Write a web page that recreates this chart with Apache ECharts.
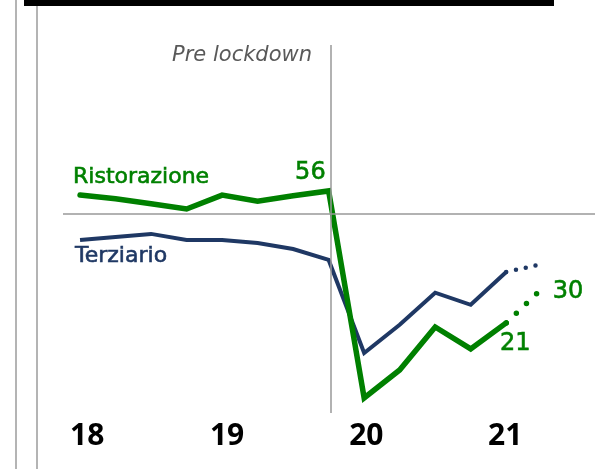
<!DOCTYPE html>
<html>
<head>
<meta charset="utf-8">
<script src="https://cdn.jsdelivr.net/npm/echarts@6/dist/echarts.min.js"></script>
<style>
  html, body { margin: 0; padding: 0; background: #fff; }
  #main { width: 615px; height: 469px; }
</style>
</head>
<body>
<div id="main"></div>
<script>
// quarters, 0 = Q1 2018
var quarters = [0, 1, 2, 3, 4, 5, 6, 7, 8, 9, 10, 11, 12];
var ristorazione = [54.9, 53.9, 52.6, 51.2, 54.9, 53.3, 54.7, 56, 1.1, 8.5, 19.9, 14.1, 21];
var terziario = [43.0, 43.8, 44.6, 43.0, 43.0, 42.2, 40.6, 37.7, 13.0, 20.5, 29.0, 25.8, 34.5];

var forecastQuarters = [12, 13];
var ristorazioneForecast = [21, 30];
var terziarioForecast = [34.5, 36.6];

var yearLabels = ['18', '19', '20', '21'];
var yearTicks = [0.2, 4.14, 8.06, 11.97];

var lockdownAt = 7.06;
var threshold = 50;

var green = '#008000';
var navy = '#1f3864';
var labelFont = 'DejaVu Sans';

function pairs(xs, ys) {
    var out = [];
    for (var i = 0; i < xs.length; i++) out.push([xs[i], ys[i]]);
    return out;
}

var valueLabel = {
    show: true,
    color: green,
    textBorderColor: green,
    textBorderWidth: 0.6,
    fontFamily: labelFont,
    fontSize: 24,
    formatter: function (p) { return Math.round(p.value[1]); }
};

var greenData = pairs(quarters, ristorazione).map(function (d, i) {
    if (i === 0) {
        return {value: d, label: {show: true, position: 'top', align: 'left', offset: [-7, -2],
            formatter: 'Ristorazione', color: green, textBorderColor: green, textBorderWidth: 0.6,
            fontFamily: labelFont, fontSize: 22}};
    }
    if (i === 7) {
        return {value: d, label: Object.assign({}, valueLabel, {position: 'top', align: 'right', offset: [-3, -1]})};
    }
    if (i === 12) {
        return {value: d, label: Object.assign({}, valueLabel, {position: 'bottom', offset: [9, 4]})};
    }
    return d;
});

var navyData = pairs(quarters, terziario).map(function (d, i) {
    if (i === 0) {
        return {value: d, label: {show: true, position: 'bottom', align: 'left', offset: [-5, 0],
            formatter: 'Terziario', color: navy, textBorderColor: navy, textBorderWidth: 0.6,
            fontFamily: labelFont, fontSize: 22}};
    }
    return d;
});

var greenFc = pairs(forecastQuarters, ristorazioneForecast).map(function (d, i) {
    if (i === 1) {
        return {value: d, label: Object.assign({}, valueLabel, {position: 'right', offset: [6, 3]})};
    }
    return d;
});

var chart = echarts.init(document.getElementById('main'));

chart.setOption({
    backgroundColor: '#fff',
    animation: false,
    grid: {left: 63, right: 20, top: 45, bottom: 56},
    xAxis: {
        type: 'value',
        min: -0.48,
        max: 14.5,
        axisLine: {show: false},
        axisTick: {show: false},
        splitLine: {show: false},
        axisLabel: {
            customValues: yearTicks,
            margin: 8,
            color: '#000',
            fontFamily: 'Open Sans',
            fontWeight: 'bold',
            fontSize: 30,
            formatter: function (v) {
                var idx = yearTicks.indexOf(v);
                return idx >= 0 ? yearLabels[idx] : '';
            }
        }
    },
    yAxis: {
        type: 'value',
        min: -2.9,
        max: 94.7,
        show: false,
        splitLine: {show: false}
    },
    graphic: [
        {type: 'rect', shape: {x: 24, y: 0, width: 530, height: 6}, style: {fill: '#000'}},
        {type: 'line', shape: {x1: 16, y1: 0, x2: 16, y2: 469}, style: {stroke: '#b4b4b4', lineWidth: 2}},
        {type: 'line', shape: {x1: 37, y1: 6, x2: 37, y2: 469}, style: {stroke: '#b4b4b4', lineWidth: 2}},
        {type: 'text', right: 615 - 312, top: 45,
            style: {text: 'Pre lockdown', fill: '#595959', fontFamily: labelFont, fontStyle: 'italic', fontSize: 21}}
    ],
    series: [
        {
            type: 'line',
            data: [],
            z: 1,
            markLine: {
                silent: true,
                symbol: 'none',
                label: {show: false},
                lineStyle: {color: '#999', width: 1.5, type: 'solid'},
                data: [{yAxis: threshold}, {xAxis: lockdownAt}]
            }
        },
        {
            name: 'Terziario',
            type: 'line',
            data: navyData,
            z: 3,
            symbol: 'circle',
            symbolSize: 0,
            lineStyle: {color: navy, width: 4, join: 'miter'},
            itemStyle: {color: navy}
        },
        {
            name: 'Terziario previsione',
            type: 'line',
            data: pairs(forecastQuarters, terziarioForecast),
            z: 3,
            symbol: 'none',
            lineStyle: {color: navy, width: 4.5, type: [0, 10], cap: 'round'}
        },
        {
            name: 'Ristorazione',
            type: 'line',
            data: greenData,
            z: 4,
            symbol: 'circle',
            symbolSize: 0,
            lineStyle: {color: green, width: 5.5, join: 'miter', cap: 'round'},
            itemStyle: {color: green}
        },
        {
            name: 'Ristorazione previsione',
            type: 'line',
            data: greenFc,
            z: 4,
            symbol: 'circle',
            symbolSize: 0,
            lineStyle: {color: green, width: 5.5, type: [0, 14], cap: 'round'},
            itemStyle: {color: green}
        }
    ]
});
</script>
</body>
</html>
